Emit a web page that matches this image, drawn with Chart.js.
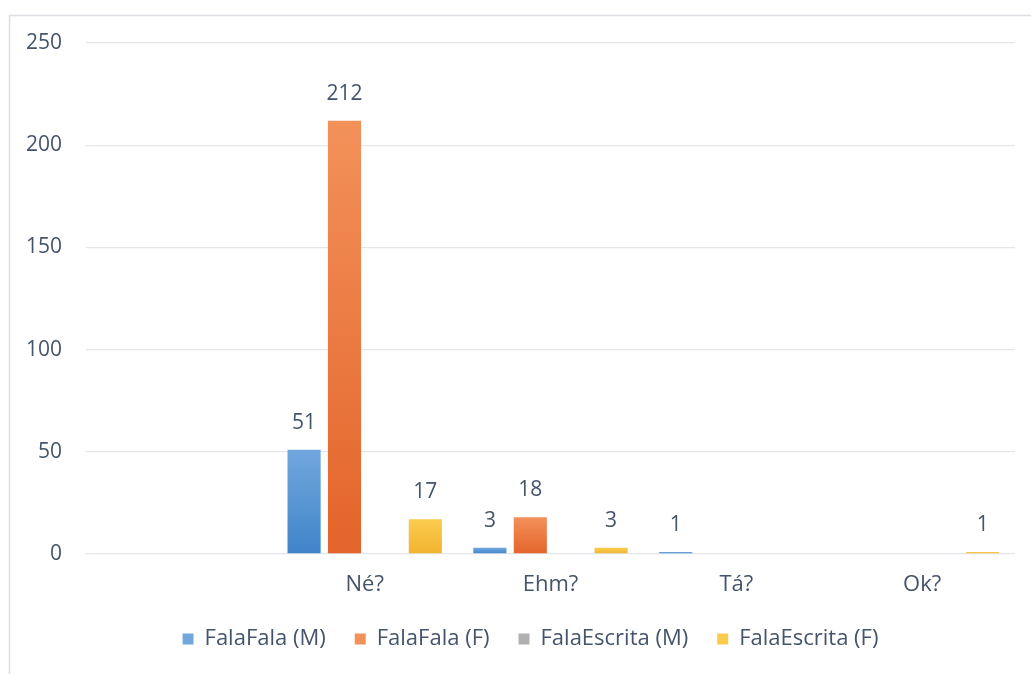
<!DOCTYPE html>
<html>
<head>
<meta charset="utf-8">
<script src="https://cdn.jsdelivr.net/npm/chart.js@4/dist/chart.umd.min.js"></script>
<style>
  html, body { margin: 0; padding: 0; background: #fff; }
  #wrap { width: 1031px; height: 674px; }
</style>
</head>
<body>
<div id="wrap"><canvas id="myChart" width="1031" height="674"></canvas></div>
<script>
// categories (first one is blank in the original)
var categories = ['', 'Né?', 'Ehm?', 'Tá?', 'Ok?'];
var seriesNames = ['FalaFala (M)', 'FalaFala (F)', 'FalaEscrita (M)', 'FalaEscrita (F)'];
var falaFalaM = [null, 51, 3, 1, 0];
var falaFalaF = [null, 212, 18, 0, 0];
var falaEscritaM = [null, 0, 0, 0, 0];
var falaEscritaF = [null, 17, 3, 0, 1];
var yTicks = [0, 50, 100, 150, 200, 250];

var textColor = '#44546a';
var fontName = '"Open Sans", Lato, sans-serif';

// top / bottom colours of each bar gradient
var barColors = [
  ['#72a7de', '#3f84c8'],
  ['#f3915a', '#e3642a'],
  ['#b0b0b0', '#9c9c9c'],
  ['#fbcb4e', '#f1b430']
];

function barFill(i) {
  return function (ctx) {
    var c = barColors[i];
    if (ctx.type !== 'data' || ctx.parsed == null || !ctx.chart.chartArea) return c[0];
    var y = ctx.chart.scales.y;
    var top = y.getPixelForValue(ctx.parsed.y);
    var bottom = y.getPixelForValue(0);
    if (!isFinite(top) || !isFinite(bottom) || bottom - top < 1) return c[0];
    var g = ctx.chart.ctx.createLinearGradient(0, top, 0, bottom);
    g.addColorStop(0, c[0]);
    g.addColorStop(1, c[1]);
    return g;
  };
}

var allData = [falaFalaM, falaFalaF, falaEscritaM, falaEscritaF];
var datasets = [];
for (var i = 0; i < seriesNames.length; i++) {
  datasets.push({
    label: seriesNames[i],
    data: allData[i],
    backgroundColor: barFill(i),
    borderWidth: 0,
    categoryPercentage: 0.87,
    barPercentage: 0.82
  });
}

// frame + white background, legend nudged right like the original
var framePlugin = {
  id: 'frame',
  afterLayout: function (chart) {
    if (chart.legend) {
      chart.legend.left += 23;
      chart.legend.right += 23;
    }
  },
  beforeDraw: function (chart) {
    var c = chart.ctx;
    c.save();
    c.fillStyle = '#fff';
    c.fillRect(0, 0, chart.width, chart.height);
    c.strokeStyle = '#dcdfe3';
    c.lineWidth = 1.5;
    c.beginPath();
    c.moveTo(9.5, chart.height);
    c.lineTo(9.5, 15.5);
    c.lineTo(chart.width, 15.5);
    c.stroke();
    c.restore();
  }
};

// value labels above the bars (non zero values only)
var valueLabels = {
  id: 'valueLabels',
  afterDatasetsDraw: function (chart) {
    var c = chart.ctx;
    c.save();
    c.fillStyle = textColor;
    c.font = '21px ' + fontName;
    c.textAlign = 'center';
    c.textBaseline = 'middle';
    chart.data.datasets.forEach(function (ds, di) {
      var meta = chart.getDatasetMeta(di);
      meta.data.forEach(function (bar, idx) {
        var v = ds.data[idx];
        if (v == null || v === 0) return;
        c.fillText(v, bar.x, bar.y - 27);
      });
    });
    c.restore();
  }
};

var config = {
  type: 'bar',
  data: { labels: categories, datasets: datasets },
  options: {
    responsive: false,
    animation: false,
    layout: { padding: { top: 43, right: 16, bottom: 14, left: 0 } },
    scales: {
      x: {
        grid: { display: false, drawTicks: false },
        border: { display: false },
        ticks: { color: textColor, font: { size: 22, family: fontName }, padding: 18 },
        afterFit: function (s) { s.height = 45; }
      },
      y: {
        min: 0,
        max: 250,
        afterBuildTicks: function (s) { s.ticks = yTicks.map(function (v) { return { value: v }; }); },
        grid: { color: '#e3e6ea', lineWidth: 1.3, drawTicks: false },
        border: { display: false },
        ticks: { color: textColor, font: { size: 21, family: fontName }, padding: 24 },
        afterFit: function (s) { s.width = 86; }
      }
    },
    plugins: {
      tooltip: { enabled: false },
      legend: {
        position: 'bottom',
        labels: {
          color: textColor,
          font: { size: 22, family: fontName },
          boxWidth: 11,
          boxHeight: 11,
          padding: 29,
          generateLabels: function (chart) {
            return chart.data.datasets.map(function (ds, i) {
              return {
                text: ds.label,
                fillStyle: barColors[i][0],
                strokeStyle: barColors[i][0],
                lineWidth: 0,
                fontColor: textColor,
                datasetIndex: i
              };
            });
          }
        }
      }
    }
  },
  plugins: [framePlugin, valueLabels]
};

const myChart = new Chart(document.getElementById('myChart'), config);
</script>
</body>
</html>
